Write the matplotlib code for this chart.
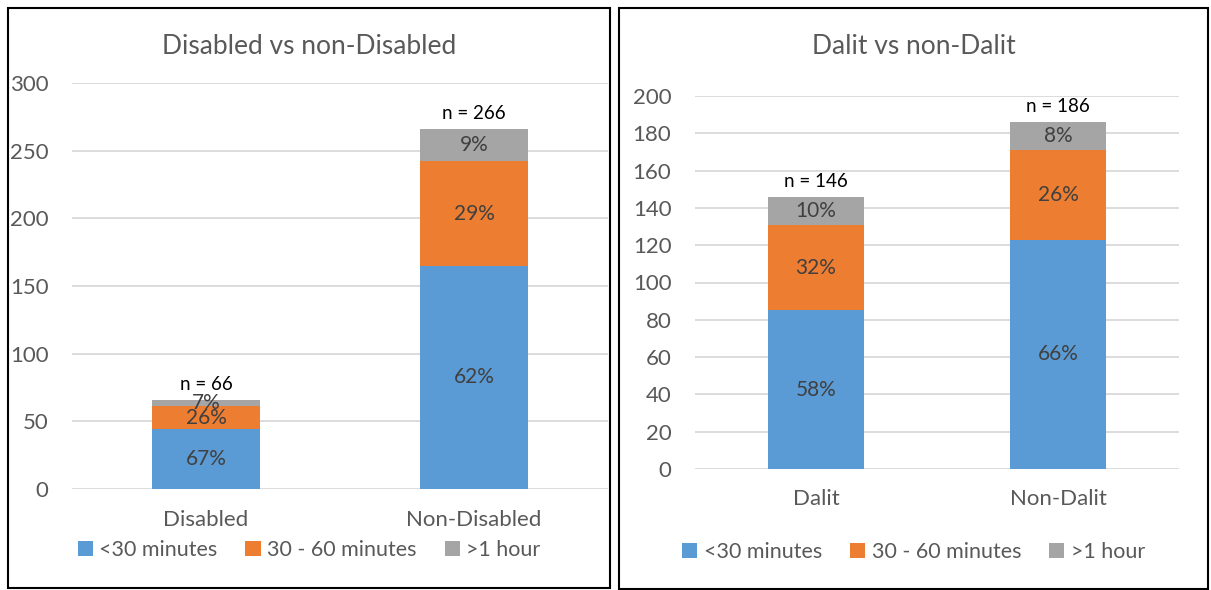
import matplotlib.pyplot as plt
from matplotlib.patches import Rectangle

plt.rcParams['font.family'] = ['Lato', 'DejaVu Sans']

# data
series = ['<30 minutes', '30 - 60 minutes', '>1 hour']
colors = ['#5B9BD5', '#ED7D31', '#A5A5A5']

dis_cats = ['Disabled', 'Non-Disabled']
dis_counts = [[44, 165], [17, 77], [5, 24]]
dis_pcts = [['67%', '62%'], ['26%', '29%'], ['7%', '9%']]
dis_totals = [66, 266]

dal_cats = ['Dalit', 'Non-Dalit']
dal_counts = [[85, 123], [46, 48], [15, 15]]
dal_pcts = [['58%', '66%'], ['32%', '26%'], ['10%', '8%']]
dal_totals = [146, 186]

W, H = 1211, 590
fig = plt.figure(figsize=(W / 100, H / 100), dpi=100)

text_col = '#595959'
grid_col = '#D9D9D9'


def fx(px):
    return px / W


def fy(py):
    return 1 - py / H


def panel(rect, cats, counts, pcts, totals, ymax, ystep, title, box, title_y, cat_y, leg_y):
    l, t, r, b = rect
    ax = fig.add_axes([fx(l), fy(b), fx(r - l), fy(t) - fy(b)])
    x = list(range(len(cats)))
    bottom = [0] * len(cats)
    handles = []
    for vals, labs, c, name in zip(counts, pcts, colors, series):
        bars = ax.bar(x, vals, 0.4, bottom=bottom, color=c, label=name, zorder=3)
        handles.append(bars)
        for xi, v, bo, lab in zip(x, vals, bottom, labs):
            ax.text(xi, bo + v / 2, lab, ha='center', va='center', fontsize=15,
                    color='#404040', zorder=4)
        bottom = [bo + v for bo, v in zip(bottom, vals)]
    for xi, tot in zip(x, totals):
        ax.annotate(f'n = {tot}', (xi, tot), xytext=(0, 11), textcoords='offset points',
                    ha='center', va='center', fontsize=13.5, color='black')
    ax.set_xlim(-0.5, len(cats) - 0.5)
    ax.set_ylim(0, ymax)
    ax.set_yticks(range(0, ymax + 1, ystep))
    ax.yaxis.grid(True, color=grid_col, linewidth=1.3, zorder=0)
    ax.set_axisbelow(True)
    for s in ax.spines.values():
        s.set_visible(False)
    ax.tick_params(axis='y', length=0, pad=17, labelsize=16, labelcolor=text_col)
    ax.set_xticks([])
    # category labels, title, legend, box
    cx = (box[0] + box[2]) / 2
    for xi, cat in zip(x, cats):
        xp = l + (xi + 0.5) / len(cats) * (r - l)
        fig.text(fx(xp), fy(cat_y), cat, ha='center', va='center', fontsize=16, color=text_col)
    fig.text(fx(cx), fy(title_y), title, ha='center', va='center', fontsize=19, color=text_col)
    fig.legend(handles=handles, loc='center', bbox_to_anchor=(fx(cx), fy(leg_y)), ncol=3,
               frameon=False, fontsize=15.5, labelcolor=text_col, handlelength=0.7,
               handleheight=0.7, handletextpad=0.3, columnspacing=1.3)
    fig.patches.append(Rectangle((fx(box[0]), fy(box[3])), fx(box[2] - box[0]),
                                 fy(box[1]) - fy(box[3]), transform=fig.transFigure,
                                 fill=False, edgecolor='black', linewidth=1.5))
    return ax


panel((72, 83, 608, 489), dis_cats, dis_counts, dis_pcts, dis_totals, 300, 50,
      'Disabled vs non-Disabled', (8, 8, 610, 588), 46, 520, 550)
panel((695, 96, 1179, 469), dal_cats, dal_counts, dal_pcts, dal_totals, 200, 20,
      'Dalit vs non-Dalit', (619, 8, 1208, 589), 46, 499, 552)

fig.savefig('out.png', dpi=100)
